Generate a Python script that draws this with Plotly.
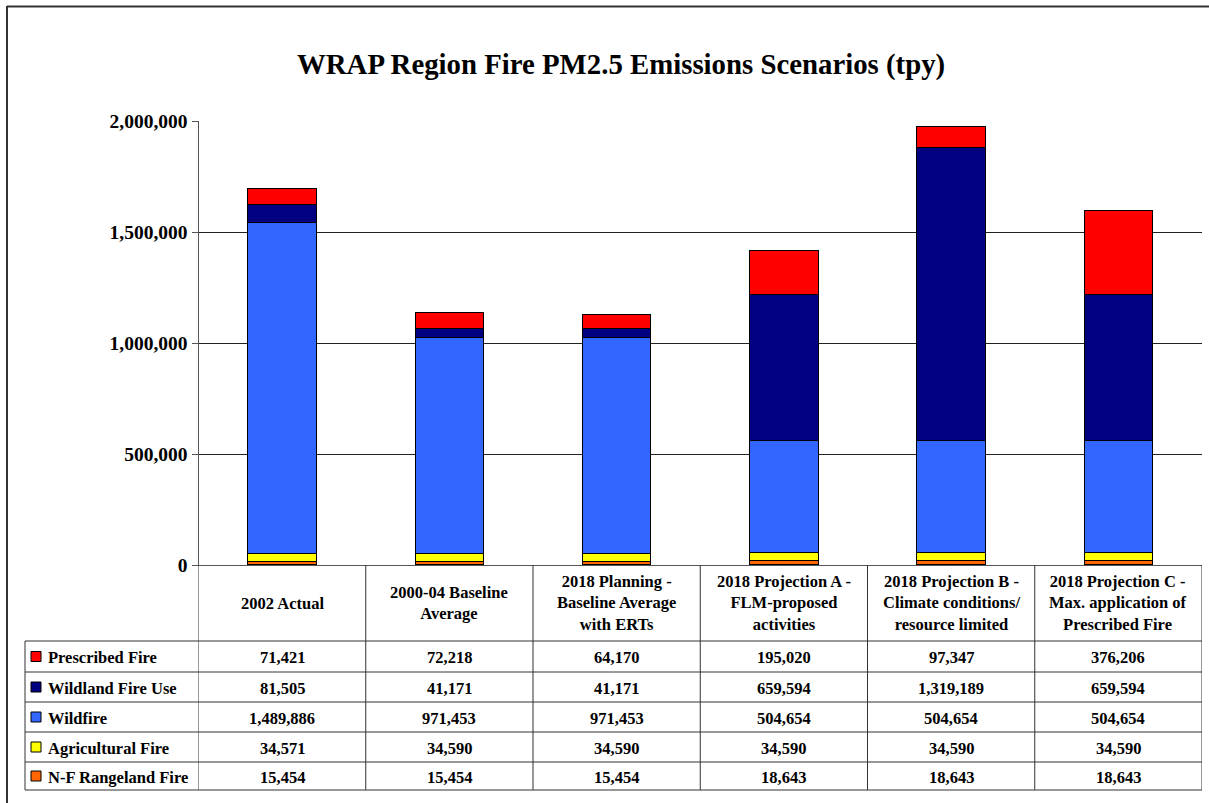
import plotly.graph_objects as go

W, H = 1209, 803

title = "WRAP Region Fire PM2.5 Emissions Scenarios (tpy)"
categories = [
    "2002 Actual",
    "2000-04 Baseline\nAverage",
    "2018 Planning -\nBaseline Average\nwith ERTs",
    "2018 Projection A -\nFLM-proposed\nactivities",
    "2018 Projection B -\nClimate conditions/\nresource limited",
    "2018 Projection C -\nMax. application of\nPrescribed Fire",
]
# stacked bottom -> top
nf_rangeland = [15454, 15454, 15454, 18643, 18643, 18643]
agricultural = [34571, 34590, 34590, 34590, 34590, 34590]
wildfire = [1489886, 971453, 971453, 504654, 504654, 504654]
wildland_fire_use = [81505, 41171, 41171, 659594, 1319189, 659594]
prescribed = [71421, 72218, 64170, 195020, 97347, 376206]

series = [
    ("N-F Rangeland Fire", nf_rangeland, "#FF6600"),
    ("Agricultural Fire", agricultural, "#FFFF00"),
    ("Wildfire", wildfire, "#3366FF"),
    ("Wildland Fire Use", wildland_fire_use, "#000080"),
    ("Prescribed Fire", prescribed, "#FF0000"),
]
y_ticks = [0, 500000, 1000000, 1500000, 2000000]
grid_ticks = [500000, 1000000, 1500000]

FONT = "Liberation Serif, Times New Roman, serif"
LINE = "#333333"

def px_x(p):
    return p / W

def px_y(p):
    return 1 - p / H

plot_left, plot_right = 198.5, 1202
plot_top, plot_bottom = 121, 565
table_left = 25
row_edges = [641, 672, 702, 732, 762, 790]

cat_idx = list(range(len(categories)))

fig = go.Figure()
for name, vals, color in series:
    fig.add_trace(go.Bar(
        x=cat_idx, y=vals, name=name, width=0.41,
        marker=dict(color=color, line=dict(color="black", width=1)),
        hovertemplate=name + ": %{y:,}<extra></extra>",
    ))
# helper trace for the overlay grid axis
fig.add_trace(go.Scatter(x=[0], y=[0], yaxis="y2", mode="markers",
                         marker=dict(opacity=0), hoverinfo="skip", showlegend=False))

shapes = []
annotations = []

# outer frame (left and top edges visible)
shapes.append(dict(type="line", xref="paper", yref="paper",
                   x0=px_x(7), x1=px_x(7), y0=px_y(6), y1=px_y(803),
                   line=dict(color="#333", width=2)))
shapes.append(dict(type="line", xref="paper", yref="paper",
                   x0=px_x(7), x1=px_x(1209), y0=px_y(6.5), y1=px_y(6.5),
                   line=dict(color="#333", width=2)))

# table vertical lines at category boundaries
for i in range(len(categories) + 1):
    shapes.append(dict(type="line", xref="x", yref="paper",
                       x0=i - 0.5, x1=i - 0.5, y0=px_y(plot_bottom), y1=px_y(row_edges[-1]),
                       line=dict(color=LINE, width=1)))
shapes.append(dict(type="line", xref="paper", yref="paper",
                   x0=px_x(table_left), x1=px_x(table_left), y0=px_y(row_edges[0]), y1=px_y(row_edges[-1]),
                   line=dict(color=LINE, width=1)))
for r in row_edges:
    shapes.append(dict(type="line", xref="paper", yref="paper",
                       x0=px_x(table_left), x1=px_x(plot_right), y0=px_y(r), y1=px_y(r),
                       line=dict(color=LINE, width=1)))

# header texts
for i, c in enumerate(categories):
    annotations.append(dict(xref="x", yref="paper", x=i, y=px_y((plot_bottom + row_edges[0]) / 2),
                            text="<b>" + c.replace("\n", "<br>") + "</b>", showarrow=False,
                            font=dict(family=FONT, size=16.5, color="black"),
                            xanchor="center", yanchor="middle"))

# data rows (top to bottom: reverse stack order)
for r, (name, vals, color) in enumerate(reversed(series)):
    yc = (row_edges[r] + row_edges[r + 1]) / 2
    shapes.append(dict(type="rect", xref="paper", yref="paper",
                       x0=px_x(31), x1=px_x(41), y0=px_y(yc - 5), y1=px_y(yc + 5),
                       fillcolor=color, line=dict(color="black", width=1)))
    annotations.append(dict(xref="paper", yref="paper", x=px_x(46), y=px_y(yc + 1),
                            text="<b>" + name + "</b>", showarrow=False,
                            font=dict(family=FONT, size=16.5, color="black"),
                            xanchor="left", yanchor="middle"))
    for i, v in enumerate(vals):
        annotations.append(dict(xref="x", yref="paper", x=i, y=px_y(yc + 1),
                                text="<b>" + f"{v:,}" + "</b>", showarrow=False,
                                font=dict(family=FONT, size=16.5, color="black"),
                                xanchor="center", yanchor="middle"))

# title
annotations.append(dict(xref="paper", yref="paper", x=px_x(621), y=px_y(65),
                        text="<b>" + title + "</b>", showarrow=False,
                        font=dict(family=FONT, size=28.8, color="black"),
                        xanchor="center", yanchor="middle"))

fig.update_layout(
    width=W, height=H,
    margin=dict(l=0, r=0, t=0, b=0, pad=0, autoexpand=False),
    paper_bgcolor="white", plot_bgcolor="white",
    barmode="stack", showlegend=False, bargap=0,
    xaxis=dict(domain=[px_x(plot_left), px_x(plot_right)], range=[-0.5, len(categories) - 0.5],
               showticklabels=False, ticks="", showgrid=False, zeroline=False, automargin=False,
               showline=True, linecolor="#555", linewidth=1, fixedrange=True),
    yaxis=dict(domain=[px_y(plot_bottom), px_y(plot_top)], range=[0, 2000000],
               tickvals=y_ticks, tickformat=",", showgrid=False, zeroline=False, automargin=False,
               showline=True, linecolor="#555", linewidth=1,
               ticks="outside", ticklen=6, tickcolor="#555",
               tickfont=dict(family=FONT, size=19.5, color="black", weight="bold"),
               fixedrange=True),
    yaxis2=dict(overlaying="y", range=[0, 2000000], tickvals=grid_ticks, automargin=False,
                showticklabels=False, ticks="", showgrid=True, gridcolor="#222", gridwidth=1,
                zeroline=False, showline=False, side="left", fixedrange=True),
    shapes=shapes,
    annotations=annotations,
)

fig.write_html("out.html", config={"displayModeBar": False},
               post_script="document.body.style.margin='0px';")
